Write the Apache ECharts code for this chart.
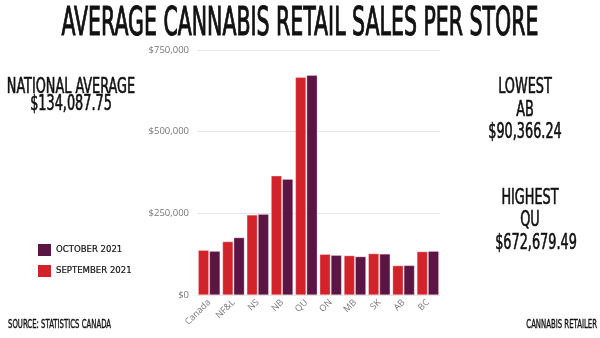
<!DOCTYPE html>
<html><head><meta charset="utf-8">
<script src="https://cdn.jsdelivr.net/npm/echarts@6/dist/echarts.min.js"></script>
<style>html,body{margin:0;padding:0;background:#fff}#c{width:600px;height:338px}</style>
</head><body><div id="c"></div>
<script>
var categories = ['Canada','NF&L','NS','NB','QU','ON','MB','SK','AB','BC'];
var september2021 = [136900, 163500, 245200, 364800, 666200, 124700, 120600, 126700, 89900, 132800];
var october2021 = [134088, 175700, 247300, 354600, 672679, 121600, 117500, 125700, 90366, 133900];
var yTicks = [0, 250000, 500000, 750000];
var COND = '"DejaVu Sans Condensed","Liberation Sans Narrow",sans-serif';

function t(text, x, y, size, align, sx, sy, lw) {
  return {type:'text', x:x, y:y, scaleX:sx, scaleY:sy,
    style:{text:text, fill:'#111', stroke:'#111', lineWidth:lw, font:size+'px '+COND, textAlign:align||'center', textVerticalAlign:'middle'}};
}

var chart = echarts.init(document.getElementById('c'));
chart.setOption({
  animation:false,
  grid:{left:197, right:160, top:50, bottom:43},
  legend:{
    orient:'vertical', left:33, top:239, itemWidth:13, itemHeight:12, itemGap:9, icon:'rect',
    data:['OCTOBER 2021','SEPTEMBER 2021'],
    itemStyle:{borderWidth:0},
    textStyle:{fontFamily:'DejaVu Sans Condensed', fontSize:9.5, color:'#111', textBorderColor:'#111', textBorderWidth:0.2}
  },
  xAxis:{type:'category', data:categories,
    axisLine:{show:false}, axisTick:{show:false},
    axisLabel:{rotate:45, color:'#777', fontSize:9, fontFamily:'"Open Sans",sans-serif', margin:6, interval:0}},
  yAxis:{type:'value', min:yTicks[0], max:yTicks[yTicks.length-1], interval:250000,
    splitLine:{lineStyle:{color:'#e6e6e6'}},
    axisLabel:{color:'#777', fontSize:9.5, fontFamily:'"Open Sans",sans-serif',
      formatter:function(v){return '$'+v.toLocaleString('en-US');}}},
  series:[
    {name:'SEPTEMBER 2021', type:'bar', data:september2021, barGap:'6%', barCategoryGap:'10%',
      itemStyle:{color:'#D2232A', borderColor:'rgba(255,220,225,0.7)', borderWidth:0.5}},
    {name:'OCTOBER 2021', type:'bar', data:october2021,
      itemStyle:{color:'#5B1542', borderColor:'rgba(240,200,220,0.7)', borderWidth:0.5}}
  ],
  graphic:[
    t('AVERAGE CANNABIS RETAIL SALES PER STORE', 300, 25, 30, 'center', 0.76, 1.3, 0.8),
    t('NATIONAL AVERAGE', 71, 87, 17, 'center', 0.84, 1.25, 0.5),
    t('$134,087.75', 71, 104, 17, 'center', 0.84, 1.25, 0.5),
    t('LOWEST', 525, 87, 17, 'center', 0.84, 1.25, 0.5),
    t('AB', 525, 110, 17, 'center', 0.84, 1.25, 0.5),
    t('$90,366.24', 525, 132, 17, 'center', 0.84, 1.25, 0.5),
    t('HIGHEST', 530, 198, 17, 'center', 0.84, 1.25, 0.5),
    t('QU', 530, 220, 17, 'center', 0.84, 1.25, 0.5),
    t('$672,679.49', 536, 243, 17, 'center', 0.84, 1.25, 0.5),
    t('SOURCE: STATISTICS CANADA', 8, 325, 10, 'left', 0.77, 1.2, 0.3),
    t('CANNABIS RETAILER', 597, 325, 10, 'right', 0.77, 1.2, 0.3)
  ]
});
</script></body></html>
